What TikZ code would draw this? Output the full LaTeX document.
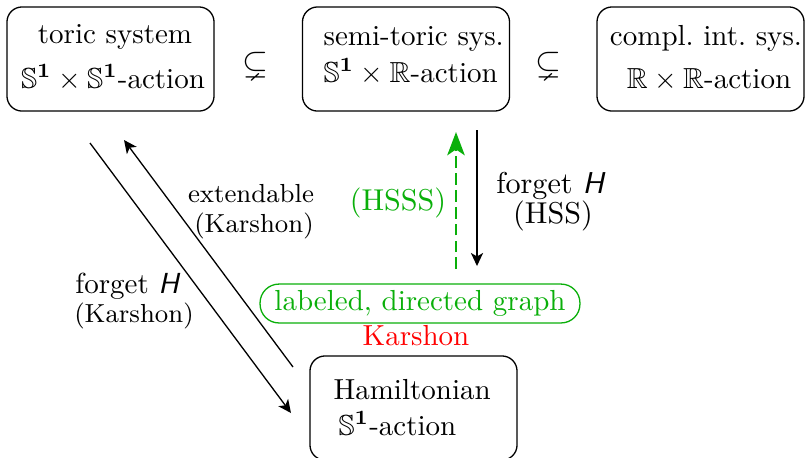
\documentclass[tikz,border=0pt]{standalone}
\usepackage{amssymb}
\usetikzlibrary{arrows.meta}
\newcommand{\SSone}{\mathbb{S}^{\mathbf{1}}}
\definecolor{mygreen}{RGB}{10,175,10}
\begin{document}
\begin{tikzpicture}[x=0.3448pt,y=-0.3448pt,
  box/.style={draw, rounded corners=5.2pt, minimum width=71.4pt, minimum height=35.9pt, inner sep=0pt, line width=0.45pt},
  txt/.style={anchor=base, inner sep=0pt},
  txtw/.style={anchor=base west, inner sep=0pt},
  arr/.style={-{Stealth[length=4.5pt,width=4.2pt,inset=1.2pt]}, line width=0.45pt},
  garr/.style={-{Stealth[length=8pt,width=6pt,inset=2pt]}, line width=1pt, mygreen, dash pattern=on 4pt off 1.8pt}]
\clip (0,0) rectangle (806,457);
% boxes
\node[box] (toric) at (110.5,59) {};
\node[box] (semi) at (406,59) {};
\node[box] (cis) at (700.5,59) {};
\node[box] (ham) at (413.5,408) {};
% box texts
\node[txt] (t1) at (115,43) {toric system};
\node[txt] (t2) at (113,88) {$\SSone\times\SSone$-action};
\node[txtw] (s1) at (323,45) {semi-toric sys.};
\node[txtw] (s2) at (323,82) {$\SSone\times\mathbb{R}$-action};
\node[txt] (c1) at (706,45) {compl.\ int.\ sys.};
\node[txt] (c2) at (709,88) {$\mathbb{R}\times\mathbb{R}$-action};
\node[txtw] (h1) at (333,399) {Hamiltonian};
\node[txtw] (h2) at (338,435) {$\SSone$-action};
% inclusions
\node[scale=1.15] (inc1) at (255,65) {$\subsetneq$};
\node[scale=1.15] (inc2) at (548,65) {$\subsetneq$};
% graph node
\node[draw=mygreen, text=mygreen, rounded corners=6.5pt, minimum width=110.3pt, minimum height=13.4pt, inner sep=0pt, line width=0.45pt] (graph) at (420,303.5) {labeled, directed graph};
\node[txt, text=red] (kars) at (416,345) {Karshon};
% coordinates
\coordinate (a1s) at (90,143);
\coordinate (a1e) at (291,413);
\coordinate (a2s) at (293,367);
\coordinate (a2e) at (124,140);
\coordinate (a3s) at (477,130);
\coordinate (a3e) at (477,266);
\coordinate (a4s) at (456,269);
\coordinate (a4e) at (456,132);
\draw[arr] (a1s) -- (a1e);
\draw[arr] (a2s) -- (a2e);
\draw[arr] (a3s) -- (a3e);
\draw[garr] (a4s) -- (a4e);
% labels
\node[txt] (lfH) at (128,293) {forget \textsf{\textit{H}}};
\node[txt] (lfK) at (134,322) {\small (Karshon)};
\node[txt] (lex) at (251,202) {\small extendable};
\node[txt] (lexK) at (254,232) {\small (Karshon)};
\node[txt, scale=1.04] (rfH) at (551,193) {forget \textsf{\textit{H}}};
\node[txt, scale=1.04] (rHSS) at (553,223) {(HSS)};
\node[txt, text=mygreen, scale=1.04] (hsss) at (398,210) {(HSSS)};
\end{tikzpicture}
\end{document}
